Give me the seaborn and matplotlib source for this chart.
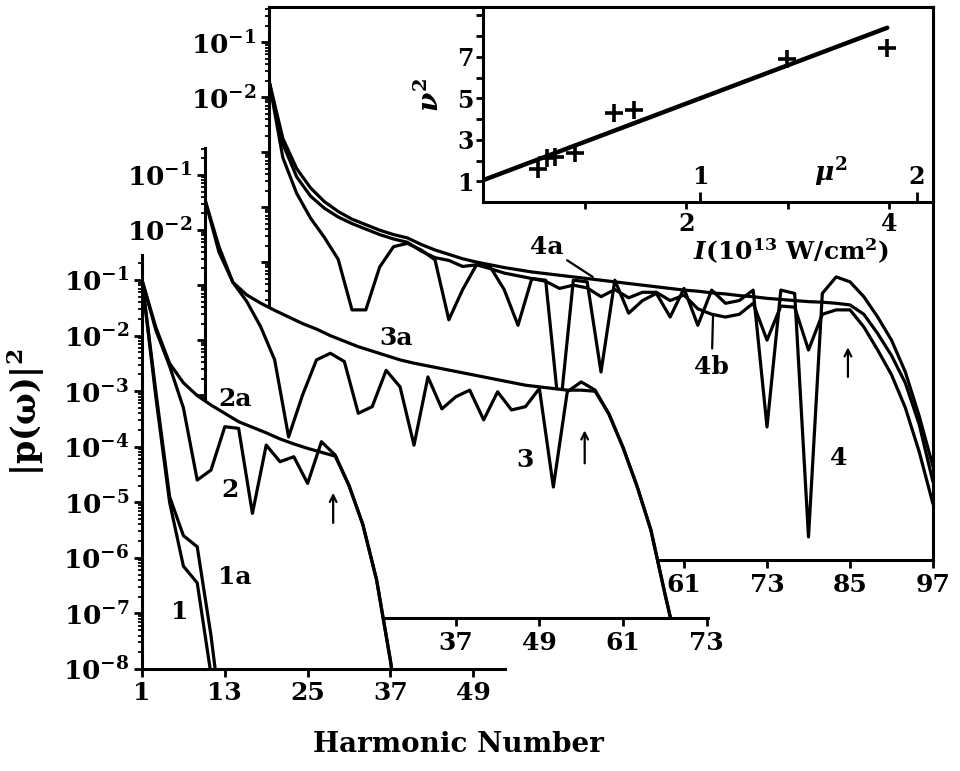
import numpy as np
import pandas as pd
import seaborn as sns
import matplotlib.pyplot as plt

# log10 |p(w)|^2, odd harmonics only

# front panel: curves 1, 1a, 2, 2a
harm_a = list(range(1, 14, 2))
curve_1 = [-1.0, -3.1, -5.0, -6.15, -6.45, -8.1, -9.5]
curve_1a = [-1.0, -3.0, -4.9, -5.6, -5.8, -7.4, -9.4]
harm_b = list(range(1, 40, 2))
curve_2 = [-1.0, -1.9, -2.55, -3.3, -4.6, -4.42, -3.64, -3.67, -5.2, -3.97,
           -4.27, -4.18, -4.66, -3.91, -4.15, -4.7, -5.4, -6.4, -7.85, -9.6]
curve_2a = [-1.0, -1.85, -2.5, -2.85, -3.08, -3.25, -3.4, -3.55, -3.65, -3.75,
            -3.86, -3.95, -4.03, -4.1, -4.17, -4.7, -5.4, -6.4, -7.85, -9.6]

# middle panel: curves 3, 3a
harm_c = list(range(1, 70, 2))
curve_3 = [-1.45, -2.4, -2.95, -3.3, -3.76, -4.36, -5.76, -5.0, -4.36, -4.24,
           -4.39, -5.33, -5.21, -4.55, -4.85, -5.91, -4.67, -5.25, -5.03, -4.91,
           -5.45, -4.94, -5.27, -5.21, -4.88, -6.67, -4.94, -4.76, -4.91, -5.35,
           -5.95, -6.65, -7.45, -8.6, -9.7]
curve_3a = [-1.45, -2.3, -2.95, -3.18, -3.33, -3.46, -3.58, -3.7, -3.8, -3.92,
            -4.02, -4.12, -4.2, -4.28, -4.36, -4.42, -4.47, -4.52, -4.57, -4.62,
            -4.67, -4.72, -4.77, -4.82, -4.85, -4.88, -4.91, -4.91, -4.93, -5.35,
            -5.95, -6.65, -7.45, -8.6, -9.7]

# back panel: curves 4, 4a, 4b
harm_d = list(range(1, 98, 2))
curve_4 = [-1.7, -3.1, -3.75, -4.2, -4.55, -4.95, -5.87, -5.87, -5.09, -4.72,
           -4.66, -4.78, -4.96, -6.05, -5.5, -5.05, -5.09, -5.5, -6.15, -5.3,
           -5.33, -7.8, -5.33, -5.36, -7.0, -5.33, -5.93, -5.7, -5.57, -6.0,
           -5.48, -6.15, -5.51, -5.75, -5.7, -5.51, -8.0, -5.51, -5.57, -10.0,
           -5.57, -5.27, -5.36, -5.63, -6.0, -6.42, -7.0, -7.8, -8.72]
curve_4a = [-1.7, -2.75, -3.3, -3.65, -3.9, -4.08, -4.22, -4.32, -4.42, -4.5,
            -4.56, -4.68, -4.78, -4.86, -4.94, -5.0, -5.05, -5.1, -5.14, -5.18,
            -5.21, -5.24, -5.27, -5.3, -5.33, -5.36, -5.39, -5.42, -5.45, -5.48,
            -5.51, -5.53, -5.56, -5.58, -5.61, -5.63, -5.66, -5.68, -5.7, -5.72,
            -5.73, -5.75, -5.78, -5.95, -6.3, -6.7, -7.2, -7.95, -9.0]
curve_4b = [-1.7, -2.85, -3.45, -3.8, -4.02, -4.18, -4.3, -4.4, -4.5, -4.58,
            -4.64, -4.8, -4.92, -4.97, -5.08, -5.05, -5.12, -5.2, -5.25, -5.3,
            -5.35, -5.48, -5.42, -5.47, -5.63, -5.5, -5.65, -5.55, -5.55, -5.7,
            -5.6, -5.85, -5.95, -6.0, -5.95, -5.75, -6.42, -5.8, -5.82, -6.6,
            -5.95, -5.87, -5.87, -6.18, -6.6, -7.05, -7.65, -8.45, -9.4]

# inset: nu^2 against intensity I (1e13 W/cm^2)
pts_I = [0.54, 0.63, 0.71, 0.91, 1.29, 1.49, 2.99, 3.98]
pts_nu2 = [1.58, 2.1, 2.15, 2.35, 4.3, 4.45, 6.87, 7.44]
fit_I = [0.0, 3.98]
fit_nu2 = [1.05, 8.4]
mu2_per_I = 0.468


def long_df(harm, curves):
    parts = [pd.DataFrame({'harmonic': harm, 'logp': v, 'curve': k})
             for k, v in curves.items()]
    df = pd.concat(parts, ignore_index=True)
    df['p'] = 10.0 ** df['logp']
    return df


sns.set_theme(style='ticks')
plt.rcParams['font.family'] = ['DejaVu Serif']
plt.rcParams['font.weight'] = 'bold'
plt.rcParams['mathtext.fontset'] = 'dejavuserif'
plt.rcParams['mathtext.default'] = 'bf'
plt.rcParams['axes.linewidth'] = 2.2
plt.rcParams['axes.edgecolor'] = 'black'
plt.rcParams['text.color'] = 'black'
plt.rcParams['axes.labelcolor'] = 'black'
plt.rcParams['xtick.color'] = 'black'
plt.rcParams['ytick.color'] = 'black'
plt.rcParams['xtick.labelcolor'] = 'black'
plt.rcParams['ytick.labelcolor'] = 'black'

W, H = 960, 771
fig = plt.figure(figsize=(W / 100, H / 100), dpi=100)
fig.patch.set_facecolor('white')


def px_axes(x0, y0, x1, y1, z):
    return fig.add_axes([x0 / W, 1 - y1 / H, (x1 - x0) / W, (y1 - y0) / H], zorder=z)


def panel(ax, df, xmax, ylo, yhi, xticks, dec_lo, labelled, hide, front):
    ax.set_yscale('log')
    if front:
        ax.patch.set_visible(False)
        env = df.pivot(index='harmonic', columns='curve', values='p').max(axis=1)
        ax.fill_between(env.index, env.values, 1e-20, color='white', lw=0, zorder=1)
    sns.lineplot(data=df, x='harmonic', y='p', units='curve', estimator=None,
                 color='black', linewidth=2.3, legend=False, ax=ax, zorder=3)
    ax.set_xlim(1, xmax)
    ax.set_ylim(ylo, yhi)
    ax.set_xticks(xticks, [str(t) for t in xticks])
    decs = list(range(dec_lo, 0))
    ax.set_yticks([10.0 ** d for d in decs],
                  [r'$10^{%d}$' % d if d in labelled else '' for d in decs])
    ax.yaxis.set_minor_locator(plt.LogLocator(base=10, subs=np.arange(2, 10), numticks=30))
    ax.yaxis.set_minor_formatter(plt.NullFormatter())
    ax.tick_params(which='major', direction='out', length=6, width=2, labelsize=18, pad=3)
    ax.tick_params(axis='y', which='major', labelsize=19)
    ax.tick_params(which='minor', direction='out', length=3, width=1.3)
    ax.set_xlabel('')
    ax.set_ylabel('')
    for s in hide:
        ax.spines[s].set_visible(False)


ax3 = px_axes(269, 7, 933, 560, 1)
ax2 = px_axes(205, 148, 708, 618, 3)
ax1 = px_axes(142, 255, 505, 669, 4)
axi = px_axes(483, 7, 933, 202, 2)

df1 = pd.concat([long_df(harm_a, {'1': curve_1, '1a': curve_1a}),
                 long_df(harm_b, {'2': curve_2, '2a': curve_2a})], ignore_index=True)
df2 = long_df(harm_c, {'3': curve_3, '3a': curve_3a})
df3 = long_df(harm_d, {'4': curve_4, '4a': curve_4a, '4b': curve_4b})

panel(ax3, df3, 97, 10 ** -10.42, 10 ** -0.36, list(range(1, 98, 12)), -10, [-1, -2], [], False)
panel(ax2, df2, 73.2, 10 ** -9.05, 10 ** -0.51, list(range(1, 74, 12)), -9, [-1, -2], ['top', 'right'], True)
panel(ax1, df1, 53.6, 1e-8, 10 ** -0.55, list(range(1, 50, 12)), -8, list(range(-8, 0)), ['top', 'right'], True)

lab = dict(ha='center', va='center', fontsize=18, fontweight='bold', color='black', zorder=5)
ax1.text(6.5, 10 ** -6.97, '1', **lab)
ax1.text(14.5, 10 ** -6.35, '1a', **lab)
ax1.text(13.75, 10 ** -4.78, '2', **lab)
ax1.text(14.5, 10 ** -3.14, '2a', **lab)
ax2.text(28.4, 10 ** -3.96, '3a', **lab)
ax2.text(46.9, 10 ** -6.18, '3', **lab)
ax3.text(83.3, 10 ** -8.56, '4', **lab)
ax3.annotate('4a', xy=(47.8, 10 ** -5.27), xytext=(41.2, 10 ** -4.73), **lab,
             arrowprops=dict(arrowstyle='-', lw=1.6, color='black', shrinkA=0, shrinkB=0))
ax3.annotate('4b', xy=(65.2, 10 ** -5.96), xytext=(65.0, 10 ** -6.9), **lab,
             arrowprops=dict(arrowstyle='-', lw=1.6, color='black', shrinkA=2, shrinkB=0))

arrow = dict(arrowstyle='->', lw=1.6, color='black', mutation_scale=12, shrinkA=0, shrinkB=0)
ax1.annotate('', xy=(28.7, 10 ** -4.83), xytext=(28.7, 10 ** -5.37), arrowprops=arrow, zorder=5)
ax2.annotate('', xy=(55.5, 10 ** -5.64), xytext=(55.5, 10 ** -6.24), arrowprops=arrow, zorder=5)
ax3.annotate('', xy=(84.7, 10 ** -6.55), xytext=(84.7, 10 ** -7.09), arrowprops=arrow, zorder=5)

# inset
axi.set_facecolor('white')
sns.lineplot(x=fit_I, y=fit_nu2, ax=axi, color='black', linewidth=3.2)
sns.scatterplot(x=pts_I, y=pts_nu2, ax=axi, marker='+', s=170, color='black', linewidth=2.6)
axi.set_xlim(0, 4.43)
axi.set_ylim(0, 9.4)
axi.set_xticks([1, 2, 3, 4], ['', '2', '', '4'])
axi.set_yticks(list(range(1, 10)), ['1', '', '3', '', '5', '', '7', '', ''])
axi.tick_params(direction='out', length=5, width=2, labelsize=17, pad=2)
sec = axi.secondary_xaxis(0, functions=(lambda i: i * mu2_per_I, lambda m: m / mu2_per_I))
sec.set_xticks([1, 2], ['1', '2'])
sec.tick_params(direction='in', length=7, width=2, labelsize=17, pad=-27)
sec.spines['bottom'].set_visible(False)
axi.text(3.42, 1.45, r'$\mathit{\mu}^2$', ha='center', va='center', fontsize=19)
axi.set_xlabel(r'$\mathit{I}$(10$^{13}$ W/cm$^2$)', fontsize=18, fontweight='bold')
axi.xaxis.set_label_coords(0.684, -0.18)
axi.set_ylabel(r'$\mathit{\nu}^2$', fontsize=20)
axi.yaxis.set_label_coords(-0.085, 0.55)

fig.text(458 / W, 1 - 745 / H, 'Harmonic Number', ha='center', va='center',
         fontsize=20, fontweight='bold')
fig.text(26 / W, 1 - 412 / H, r'$|\mathrm{p}(\omega)|^2$', ha='center', va='center',
         rotation=90, fontsize=24)

fig.savefig('out.png', dpi=100)
